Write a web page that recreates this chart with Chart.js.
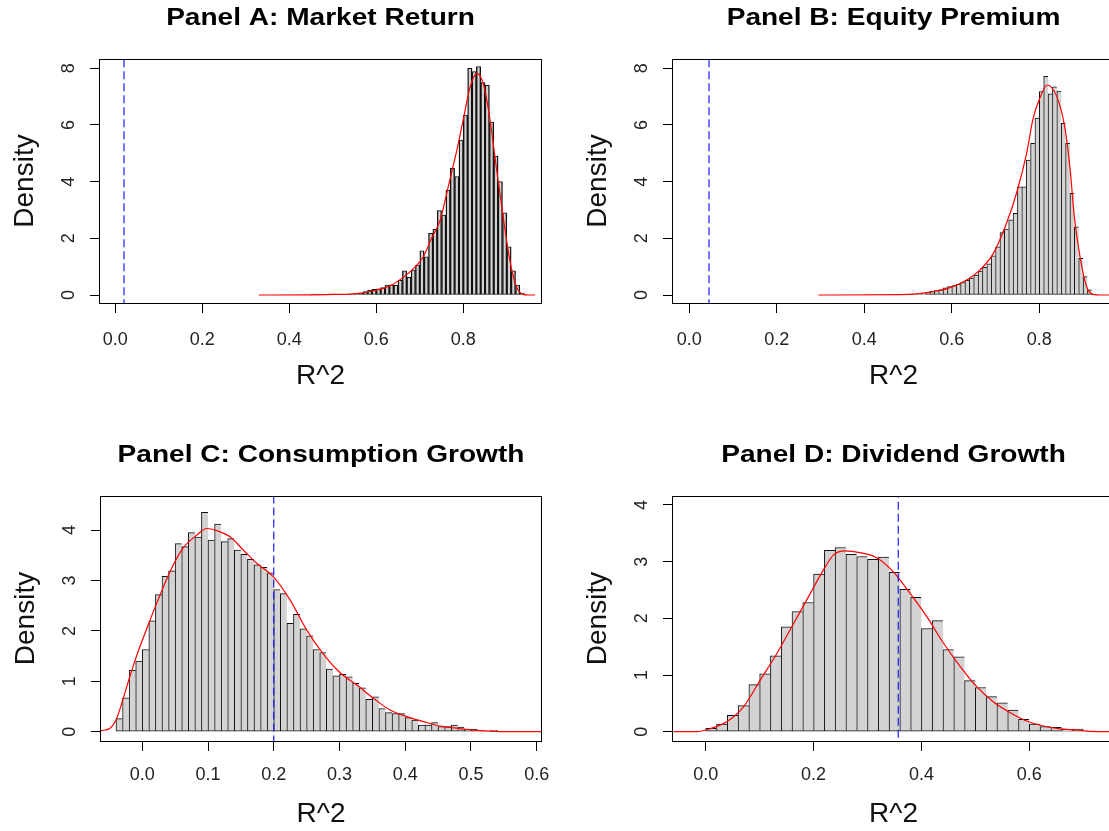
<!DOCTYPE html>
<html lang="en">
<head>
<meta charset="UTF-8">
<title>R^2 densities</title>
<script src="https://cdn.jsdelivr.net/npm/chart.js@4.4.1/dist/chart.umd.min.js"></script>
<style>
  html, body { margin: 0; padding: 0; background: #fff; overflow: hidden; }
  #wrap { position: relative; width: 1109px; height: 831px; overflow: hidden; }
  #wrap canvas { position: absolute; left: 0; top: 0; }
</style>
</head>
<body>
<div id="wrap">
  <canvas id="cA" width="1120" height="831"></canvas>
  <canvas id="cB" width="1120" height="831"></canvas>
  <canvas id="cC" width="1120" height="831"></canvas>
  <canvas id="cD" width="1120" height="831"></canvas>
</div>

<script>
// ---- data ----
var panelTitles = ['Panel A: Market Return', 'Panel B: Equity Premium',
                   'Panel C: Consumption Growth', 'Panel D: Dividend Growth'];
var xTitle = 'R^2';
var yTitle = 'Density';

// histogram bins (left edges) and densities
var binsA = [0.45,0.46,0.47,0.48,0.49,0.50,0.51,0.52,0.53,0.54,0.55,0.56,0.57,0.58,0.59,0.60,0.61,0.62,0.63,0.64,
             0.65,0.66,0.67,0.68,0.69,0.70,0.71,0.72,0.73,0.74,0.75,0.76,0.77,0.78,0.79,0.80,0.81,0.82,0.83,0.84,
             0.85,0.86,0.87,0.88,0.89,0.90,0.91,0.92,0.93];
var densA = [0.03,0.03,0,0.01,0.03,0.03,0.01,0.02,0.02,0.03,0.05,0.07,0.12,0.17,0.2,0.22,0.26,0.35,0.36,0.34,
             0.52,0.85,0.62,0.88,1.06,1.56,1.35,2.18,2.32,2.98,2.82,3.7,4.47,4.18,5.47,6.35,8.0,7.88,8.06,7.5,
             7.4,6.1,4.9,4.0,2.9,1.7,0.85,0.35,0.06];

var binsB = [0.48,0.49,0.50,0.51,0.52,0.53,0.54,0.55,0.56,0.57,0.58,0.59,0.60,0.61,0.62,0.63,0.64,0.65,0.66,0.67,
             0.68,0.69,0.70,0.71,0.72,0.73,0.74,0.75,0.76,0.77,0.78,0.79,0.80,0.81,0.82,0.83,0.84,0.85,0.86,0.87,
             0.88,0.89,0.90,0.91,0.92];
var densB = [0.02,0.02,0.02,0.03,0.03,0.04,0.1,0.14,0.16,0.18,0.25,0.3,0.33,0.38,0.44,0.52,0.6,0.7,0.84,0.98,
             1.1,1.38,1.7,2.2,2.33,2.65,2.88,3.82,3.82,4.76,5.35,6.24,7.18,7.72,7.1,7.35,7.2,6.06,5.35,3.59,
             2.41,1.29,0.65,0.18,0.03];

var binsC = [-0.04,-0.03,-0.02,-0.01,0.00,0.01,0.02,0.03,0.04,0.05,0.06,0.07,0.08,0.09,0.10,0.11,0.12,0.13,0.14,0.15,
             0.16,0.17,0.18,0.19,0.20,0.21,0.22,0.23,0.24,0.25,0.26,0.27,0.28,0.29,0.30,0.31,0.32,0.33,0.34,0.35,
             0.36,0.37,0.38,0.39,0.40,0.41,0.42,0.43,0.44,0.45,0.46,0.47,0.48,0.49,0.50,0.51,0.52,0.53];
var densC = [0.26,0.67,1.22,1.4,1.63,2.2,2.72,3.08,3.19,3.73,3.67,3.95,3.86,4.35,3.8,4.12,3.77,3.83,3.6,3.52,
             3.42,3.31,3.26,3.15,2.82,2.74,2.15,2.33,2.04,1.9,1.63,1.57,1.24,1.11,1.14,1.09,0.96,0.87,0.64,0.69,
             0.46,0.38,0.36,0.36,0.28,0.23,0.13,0.13,0.18,0.1,0.1,0.13,0.09,0.05,0.05,0.02,0.01,0.03];

var binsD = [0.00,0.02,0.04,0.06,0.08,0.10,0.12,0.14,0.16,0.18,0.20,0.22,0.24,0.26,0.28,0.30,0.32,0.34,0.36,0.38,
             0.40,0.42,0.44,0.46,0.48,0.50,0.52,0.54,0.56,0.58,0.60,0.62,0.64,0.66,0.68];
var densD = [0.06,0.135,0.29,0.46,0.83,1.02,1.34,1.85,2.12,2.28,2.78,3.2,3.25,3.13,3.09,3.04,3.08,2.81,2.51,2.37,
             1.82,1.96,1.45,1.32,0.9,0.78,0.62,0.51,0.38,0.22,0.135,0.09,0.076,0.04,0.047];

// kernel density curves (red)
var curveXA = [0.33,0.45,0.5,0.555,0.593,0.631,0.67,0.69,0.708,0.727,0.747,0.765,0.785,0.8,0.815,0.831,0.845,0.855,
               0.865,0.875,0.885,0.895,0.905,0.915,0.925,0.935,0.95,0.965];
var curveYA = [0,0.005,0.02,0.05,0.15,0.32,0.72,1.0,1.35,2.0,2.65,3.8,5.1,6.2,7.3,7.82,7.5,6.8,
               5.8,4.6,3.5,2.4,1.4,0.65,0.2,0.04,0,0];

var curveXB = [0.295,0.48,0.52,0.558,0.596,0.634,0.664,0.695,0.725,0.748,0.771,0.786,0.80,0.818,0.84,0.858,0.87,
               0.88,0.893,0.908,0.923,0.94,0.98];
var curveYB = [0,0.01,0.04,0.12,0.26,0.53,0.88,1.47,2.53,3.6,5.0,6.24,6.9,7.41,7.0,5.94,4.5,
               2.76,1.35,0.3,0.02,0,0];

var curveXC = [-0.063,-0.049,-0.039,-0.029,-0.019,-0.009,0.002,0.012,0.022,0.042,0.062,0.083,0.098,0.113,0.133,
               0.154,0.174,0.199,0.225,0.25,0.275,0.301,0.326,0.352,0.377,0.402,0.428,0.453,0.478,0.504,0.529,0.554,0.61];
var curveYC = [0.02,0.07,0.26,0.66,1.09,1.49,1.88,2.22,2.55,3.17,3.64,3.9,4.03,3.99,3.87,
               3.6,3.34,3.08,2.61,2.02,1.55,1.17,0.93,0.66,0.43,0.3,0.2,0.11,0.07,0.03,0.01,0,0];

var curveXD = [-0.06,-0.017,0.008,0.039,0.07,0.101,0.132,0.163,0.194,0.218,0.237,0.258,0.286,0.317,0.348,0.379,
               0.41,0.441,0.472,0.503,0.533,0.564,0.595,0.626,0.657,0.688,0.713,0.76];
var curveYD = [0,0,0.053,0.176,0.44,0.91,1.38,1.91,2.44,2.85,3.12,3.19,3.16,3.07,2.82,2.44,
               2.03,1.56,1.15,0.79,0.53,0.34,0.19,0.1,0.05,0.03,0.006,0];

// observed R^2 (blue dashed line)
var observed = [0.02, 0.045, 0.2, 0.357];

// ---- layout (page pixels) ----
var FONT = "'Liberation Sans', Arial, Helvetica, sans-serif";
var CW = 1120, CH = 831;
var YAXW = 40;  // y axis box width
var XAXH = 60;  // x axis box height

Chart.defaults.font.family = FONT;
Chart.defaults.color = '#222';

var decor = {
  id: 'decor',
  afterDraw: function (chart) {
    var o = chart.options.plugins.decor;
    var a = chart.chartArea, ctx = chart.ctx;
    var l = Math.round(a.left), t = Math.round(a.top), r = Math.round(a.right), b = Math.round(a.bottom);
    ctx.save();
    ctx.strokeStyle = '#000';
    ctx.lineWidth = 1;
    ctx.strokeRect(l - 0.5, t + 0.5, r - l + 1, b - t);

    // y tick labels, parallel to the axis
    var ys = chart.scales.y;
    ctx.fillStyle = '#222';
    ctx.font = '18px ' + FONT;
    ctx.textAlign = 'center';
    ctx.textBaseline = 'middle';
    ys.ticks.forEach(function (tk) {
      var py = ys.getPixelForValue(tk.value);
      ctx.save();
      ctx.translate(l - 31, py);
      ctx.rotate(-Math.PI / 2);
      ctx.fillText(String(tk.value), 0, 0);
      ctx.restore();
    });

    // axis titles
    ctx.fillStyle = '#111';
    ctx.font = '28px ' + FONT;
    ctx.fillText(xTitle, (l + r) / 2, b + 73);
    ctx.save();
    ctx.translate(l - 75, (t + b) / 2);
    ctx.rotate(-Math.PI / 2);
    ctx.fillText(yTitle, 0, 0);
    ctx.restore();

    // main title (R draws it wide, so stretch horizontally)
    ctx.fillStyle = '#000';
    ctx.font = 'bold 23px ' + FONT;
    ctx.save();
    ctx.translate((l + r) / 2, t - 40);
    ctx.scale(1.22, 1);
    ctx.fillText(o.title, 0, 0);
    ctx.restore();
    ctx.restore();
  }
};

function histChart(id, p) {
  var bars = p.bins.map(function (b, i) { return { x: b + p.binWidth / 2, y: p.dens[i] }; });
  var curve = p.curveX.map(function (x, i) { return { x: x, y: p.curveY[i] }; });
  var vline = [{ x: p.obs, y: p.yMin - 1 }, { x: p.obs, y: p.yMax + 1 }];
  var last = bars.length - 1;
  var side = p.edge || 1;

  return new Chart(document.getElementById(id), {
    type: 'bar',
    data: {
      datasets: [{
        type: 'bar',
        data: bars,
        backgroundColor: '#d3d3d3',
        borderColor: '#111',
        borderWidth: function (c) {
          return { top: 1, left: side, bottom: 1, right: (p.edge || c.dataIndex === last) ? side : 0 };
        },
        borderSkipped: false,
        barPercentage: 1,
        categoryPercentage: 1,
        order: 3
      }, {
        type: 'line',
        data: curve,
        borderColor: '#ff0000',
        borderWidth: 1.2,
        pointRadius: 0,
        fill: false,
        cubicInterpolationMode: 'monotone',
        order: 2
      }, {
        type: 'line',
        data: vline,
        borderColor: '#1a1aff',
        borderWidth: 1.2,
        borderDash: [8, 4],
        pointRadius: 0,
        fill: false,
        order: 1
      }]
    },
    options: {
      responsive: false,
      animation: false,
      devicePixelRatio: 1,
      events: [],
      layout: {
        padding: {
          left: p.area[0] - YAXW,
          top: p.area[1],
          right: CW - p.area[2],
          bottom: CH - p.area[3] - XAXH
        }
      },
      plugins: {
        legend: { display: false },
        tooltip: { enabled: false },
        decor: { title: p.title }
      },
      scales: {
        x: {
          type: 'linear',
          min: p.xMin, max: p.xMax,
          offset: false,
          border: { display: false },
          grid: { offset: false, drawOnChartArea: false, drawTicks: true, tickLength: 10, color: '#000', lineWidth: 1 },
          ticks: {
            stepSize: p.xStep,
            includeBounds: false,
            autoSkip: false,
            maxRotation: 0,
            padding: p.tickPad,
            color: '#222',
            font: { size: 18 },
            callback: function (v) { return v.toFixed(1); }
          },
          afterFit: function (s) { s.height = XAXH; }
        },
        y: {
          type: 'linear',
          min: p.yMin, max: p.yMax,
          border: { display: false },
          grid: { drawOnChartArea: false, drawTicks: true, tickLength: 10, color: '#000', lineWidth: 1 },
          ticks: { stepSize: p.yStep, includeBounds: false, display: false },
          afterFit: function (s) { s.width = YAXW; }
        }
      }
    },
    plugins: [decor]
  });
}

histChart('cA', {
  title: panelTitles[0], bins: binsA, dens: densA, binWidth: 0.01, edge: 1.4,
  curveX: curveXA, curveY: curveYA, obs: observed[0],
  xMin: -0.0352, xMax: 0.9786, xStep: 0.2, yMin: -0.282, yMax: 8.328, yStep: 2,
  area: [100, 59, 541, 303], tickPad: 16
});
histChart('cB', {
  title: panelTitles[1], bins: binsB, dens: densB, binWidth: 0.01,
  curveX: curveXB, curveY: curveYB, obs: observed[1],
  xMin: -0.0373, xMax: 0.9707, xStep: 0.2, yMin: -0.282, yMax: 8.328, yStep: 2,
  area: [673, 59, 1114, 303], tickPad: 16
});
histChart('cC', {
  title: panelTitles[2], bins: binsC, dens: densC, binWidth: 0.01,
  curveX: curveXC, curveY: curveYC, obs: observed[2],
  xMin: -0.0628, xMax: 0.6066, xStep: 0.1, yMin: -0.184, yMax: 4.675, yStep: 1,
  area: [101, 496, 541, 741], tickPad: 13
});
histChart('cD', {
  title: panelTitles[3], bins: binsD, dens: densD, binWidth: 0.02,
  curveX: curveXD, curveY: curveYD, obs: observed[3],
  xMin: -0.0607, xMax: 0.7571, xStep: 0.2, yMin: -0.164, yMax: 4.158, yStep: 1,
  area: [673, 496, 1114, 741], tickPad: 13
});
</script>
</body>
</html>
